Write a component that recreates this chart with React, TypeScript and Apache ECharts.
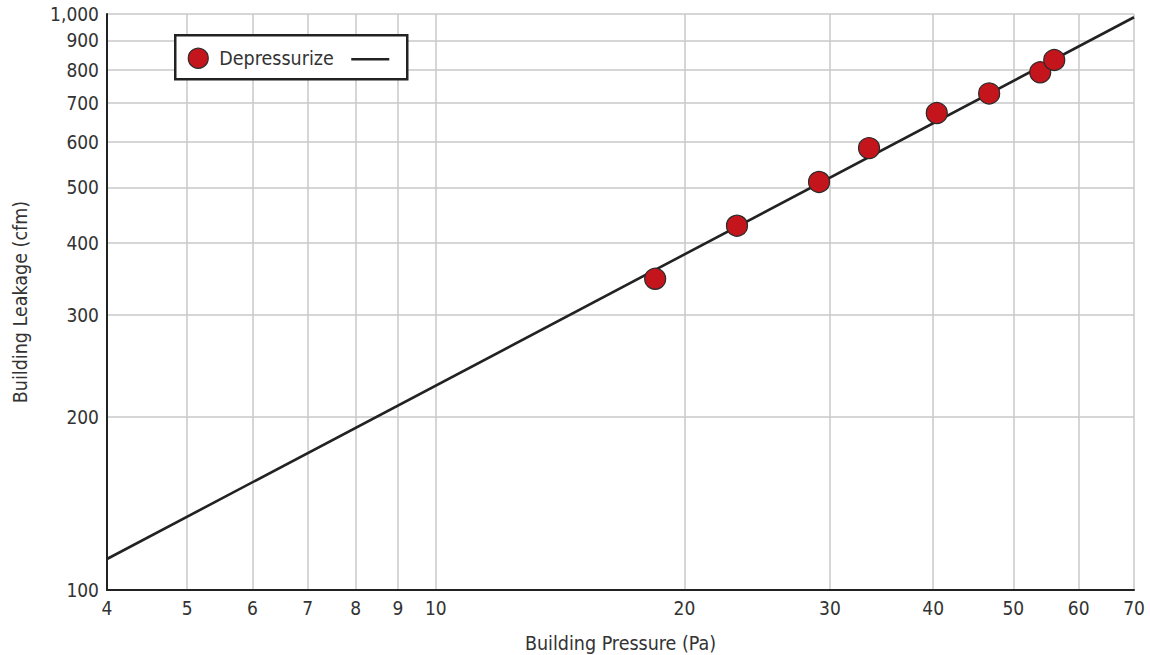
import React, { useEffect, useRef } from "react";
import * as echarts from "echarts";

const xTicks = [4, 5, 6, 7, 8, 9, 10, 20, 30, 40, 50, 60, 70];
const yTicks = [100, 200, 300, 400, 500, 600, 700, 800, 900, 1000];
const pressure = [18.43, 23.15, 29.1, 33.45, 40.4, 46.75, 53.9, 56.05];
const leakage = [347, 429, 511, 585, 673, 728, 792, 832];
const fitPressure = [4, 70];
const fitLeakage = [113.2, 987];

const FONT = "'DejaVu Sans Condensed', 'Roboto', sans-serif";

export default function App() {
  const ref = useRef<HTMLDivElement>(null);
  useEffect(() => {
    if (!ref.current) return;
    const chart = echarts.init(ref.current, null, { renderer: "svg" });
    chart.setOption({
      animation: false,
      textStyle: { fontFamily: FONT },
      grid: {
        left: 107,
        right: 16,
        top: 14,
        bottom: 65,
        containLabel: false,
        outerBoundsMode: "none",
      },
      xAxis: {
        type: "log",
        logBase: 10,
        min: 4,
        max: 70,
        name: "Building Pressure (Pa)",
        nameLocation: "middle",
        nameGap: 43,
        nameTextStyle: { fontSize: 19.5, color: "#333", fontFamily: FONT },
        axisLine: { show: true, lineStyle: { color: "#222", width: 2 } },
        axisTick: { show: false, customValues: xTicks },
        axisLabel: {
          customValues: xTicks,
          fontSize: 19,
          color: "#333",
          margin: 8,
          fontFamily: FONT,
        },
        splitLine: { show: true, lineStyle: { color: "#c8c8c8", width: 1.5 } },
        minorTick: { show: false },
      },
      yAxis: {
        type: "log",
        logBase: 10,
        min: 100,
        max: 1000,
        name: "Building Leakage (cfm)",
        nameLocation: "middle",
        nameGap: 77,
        nameTextStyle: { fontSize: 19.5, color: "#333", fontFamily: FONT },
        axisLine: { show: true, lineStyle: { color: "#222", width: 2 } },
        axisTick: { show: false, customValues: yTicks },
        axisLabel: {
          customValues: yTicks,
          fontSize: 19,
          color: "#333",
          margin: 8,
          fontFamily: FONT,
          formatter: (v: number) => Math.round(v).toLocaleString("en-US"),
        },
        splitLine: { show: true, lineStyle: { color: "#c8c8c8", width: 1.5 } },
      },
      series: [
        {
          type: "line",
          name: "Fit",
          data: fitPressure.map((p, i) => [p, fitLeakage[i]]),
          showSymbol: false,
          lineStyle: { color: "#222", width: 2.6 },
          z: 2,
        },
        {
          type: "scatter",
          name: "Depressurize",
          data: pressure.map((p, i) => [p, leakage[i]]),
          symbol: "circle",
          symbolSize: 21,
          itemStyle: {
            color: "#c4151c",
            borderColor: "#2a2a2a",
            borderWidth: 1.2,
            opacity: 1,
          },
          z: 3,
        },
      ],
      graphic: [
        {
          type: "group",
          left: 174,
          top: 34,
          z: 100,
          children: [
            {
              type: "rect",
              z: 100,
              shape: { x: 0, y: 0, width: 232, height: 44 },
              style: { fill: "#fff", stroke: "#222", lineWidth: 2.5 },
            },
            {
              type: "circle",
              z: 101,
              shape: { cx: 23, cy: 23, r: 10 },
              style: { fill: "#c4151c", stroke: "#2a2a2a", lineWidth: 1.2 },
            },
            {
              type: "text",
              z: 101,
              x: 44,
              y: 23,
              style: {
                text: "Depressurize",
                fontSize: 19.5,
                fill: "#333",
                fontFamily: FONT,
                verticalAlign: "middle",
              },
            },
            {
              type: "line",
              z: 101,
              shape: { x1: 176, y1: 24, x2: 214, y2: 24 },
              style: { stroke: "#222", lineWidth: 2.5 },
            },
          ],
        },
      ],
    });
    return () => chart.dispose();
  }, []);
  return (
    <div
      ref={ref}
      style={{ width: 1150, height: 655, position: "absolute", left: 0, top: 0 }}
    />
  );
}
